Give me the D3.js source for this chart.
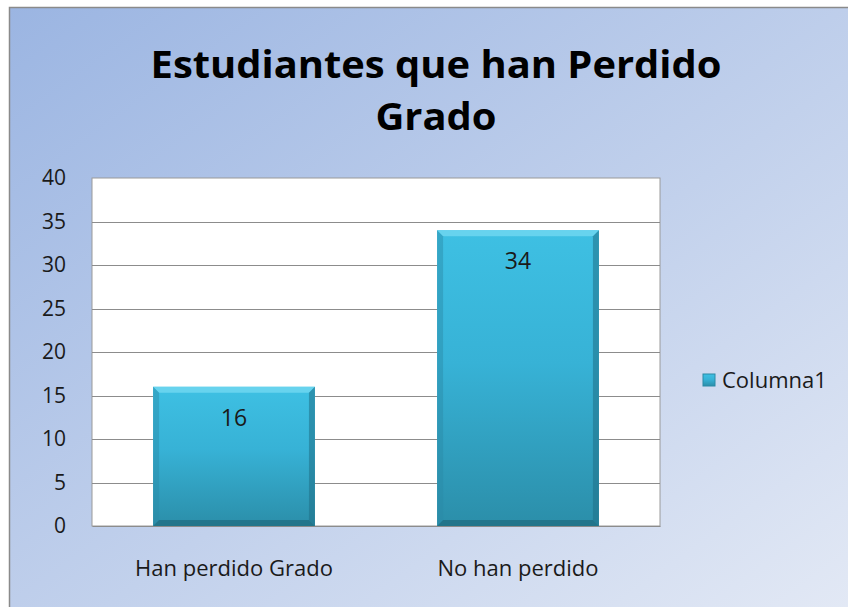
<!DOCTYPE html>
<html>
<head>
<meta charset="utf-8">
<script src="https://cdn.jsdelivr.net/npm/d3@7"></script>
<style>
  html, body { margin: 0; padding: 0; background: #fff; }
  svg { display: block; }
</style>
</head>
<body>
<script>
// Chart data
const categories = ["Han perdido Grado", "No han perdido"];
const values = [16, 34];
const yTicks = [0, 5, 10, 15, 20, 25, 30, 35, 40];
const seriesName = "Columna1";
const titleLines = ["Estudiantes que han Perdido", "Grado"];

const width = 848;
const height = 607;
const font = "'Open Sans', Lato, sans-serif";

const svg = d3.select("body")
  .append("svg")
  .attr("width", width)
  .attr("height", height);

const defs = svg.append("defs");

// Chart background gradient
const bg = defs.append("linearGradient")
  .attr("id", "bg")
  .attr("x1", "0").attr("y1", "0")
  .attr("x2", "1").attr("y2", "1");
bg.append("stop").attr("offset", "0%").attr("stop-color", "#9bb5e2");
bg.append("stop").attr("offset", "55%").attr("stop-color", "#c2d1ec");
bg.append("stop").attr("offset", "100%").attr("stop-color", "#e3e9f5");

// Bar gradient
const barGrad = defs.append("linearGradient")
  .attr("id", "barFill")
  .attr("x1", "0").attr("y1", "0")
  .attr("x2", "0").attr("y2", "1");
barGrad.append("stop").attr("offset", "0%").attr("stop-color", "#3ec0e3");
barGrad.append("stop").attr("offset", "45%").attr("stop-color", "#37b2d6");
barGrad.append("stop").attr("offset", "100%").attr("stop-color", "#2b8ea9");

svg.append("rect")
  .attr("x", 9.5).attr("y", 7.5)
  .attr("width", width).attr("height", height)
  .attr("fill", "url(#bg)")
  .attr("stroke", "#8a8a8a")
  .attr("stroke-width", 1.5);

// Title
svg.append("text")
  .attr("transform", "translate(436,0) scale(1.05,1)")
  .attr("text-anchor", "middle")
  .attr("font-family", font)
  .attr("font-weight", "bold")
  .attr("font-size", 38)
  .attr("fill", "#000")
  .selectAll("tspan")
  .data(titleLines)
  .enter()
  .append("tspan")
  .attr("x", 0)
  .attr("y", (d, i) => 78 + i * 52)
  .text((d) => d);

// Plot area
const plot = { left: 92, right: 660, top: 178, bottom: 526 };

const x = d3.scaleBand()
  .domain(categories)
  .range([plot.left, plot.right])
  .paddingInner(0.43)
  .paddingOuter(0.215);

const y = d3.scaleLinear()
  .domain([0, 40])
  .range([plot.bottom, plot.top]);

svg.append("rect")
  .attr("x", plot.left).attr("y", plot.top)
  .attr("width", plot.right - plot.left)
  .attr("height", plot.bottom - plot.top)
  .attr("fill", "#fff")
  .attr("stroke", "#9a9a9a")
  .attr("stroke-width", 1);

// Gridlines
svg.append("g")
  .selectAll("line")
  .data(yTicks.slice(1, -1))
  .enter()
  .append("line")
  .attr("x1", plot.left).attr("x2", plot.right)
  .attr("y1", (d) => Math.round(y(d)) + 0.5)
  .attr("y2", (d) => Math.round(y(d)) + 0.5)
  .attr("stroke", "#8c8c8c")
  .attr("stroke-width", 1);

// Y axis labels
const yAxis = d3.axisLeft(y).tickValues(yTicks).tickSize(0).tickPadding(26);
svg.append("g")
  .attr("transform", `translate(${plot.left},0)`)
  .call(yAxis)
  .call((g) => g.select(".domain").remove())
  .selectAll("text")
  .attr("font-family", font)
  .attr("font-size", 21)
  .attr("fill", "#1a1a1a");

// X axis labels
const xAxis = d3.axisBottom(x).tickSize(0).tickPadding(34);
svg.append("g")
  .attr("transform", `translate(0,${plot.bottom})`)
  .call(xAxis)
  .call((g) => g.select(".domain").attr("stroke", "#8c8c8c"))
  .selectAll("text")
  .attr("font-family", font)
  .attr("font-size", 22)
  .attr("fill", "#1a1a1a");

// Bars with bevel
const bev = 6;
const bars = svg.append("g")
  .selectAll("g")
  .data(values)
  .enter()
  .append("g");

bars.append("rect")
  .attr("x", (d, i) => x(categories[i]))
  .attr("y", (d) => y(d))
  .attr("width", x.bandwidth())
  .attr("height", (d) => y(0) - y(d))
  .attr("fill", "url(#barFill)");

// top bevel
bars.append("path")
  .attr("d", (d, i) => {
    const x0 = x(categories[i]), x1 = x0 + x.bandwidth(), t = y(d);
    return `M${x0},${t}L${x1},${t}L${x1 - bev},${t + bev}L${x0 + bev},${t + bev}Z`;
  })
  .attr("fill", "#6fd6f0")
  .attr("opacity", 0.85);
// left bevel
bars.append("path")
  .attr("d", (d, i) => {
    const x0 = x(categories[i]), t = y(d), b = y(0);
    return `M${x0},${t}L${x0 + bev},${t + bev}L${x0 + bev},${b - bev}L${x0},${b}Z`;
  })
  .attr("fill", "#2a8aa6")
  .attr("opacity", 0.45);
// right bevel
bars.append("path")
  .attr("d", (d, i) => {
    const x1 = x(categories[i]) + x.bandwidth(), t = y(d), b = y(0);
    return `M${x1},${t}L${x1 - bev},${t + bev}L${x1 - bev},${b - bev}L${x1},${b}Z`;
  })
  .attr("fill", "#1f6f86")
  .attr("opacity", 0.55);
// bottom bevel
bars.append("path")
  .attr("d", (d, i) => {
    const x0 = x(categories[i]), x1 = x0 + x.bandwidth(), b = y(0);
    return `M${x0},${b}L${x1},${b}L${x1 - bev},${b - bev}L${x0 + bev},${b - bev}Z`;
  })
  .attr("fill", "#1d6477")
  .attr("opacity", 0.6);

// Data labels
bars.append("text")
  .attr("x", (d, i) => x(categories[i]) + x.bandwidth() / 2)
  .attr("y", (d) => y(d) + 39)
  .attr("text-anchor", "middle")
  .attr("font-family", font)
  .attr("font-size", 23)
  .attr("fill", "#1a1a1a")
  .text((d) => d);

// Legend
const legend = svg.append("g").attr("transform", "translate(703,374)");
legend.append("rect")
  .attr("width", 12).attr("height", 12)
  .attr("fill", "url(#barFill)")
  .attr("stroke", "#2a8aa6")
  .attr("stroke-width", 1);
legend.append("text")
  .attr("x", 19)
  .attr("y", 14)
  .attr("font-family", font)
  .attr("font-size", 22)
  .attr("fill", "#1a1a1a")
  .text(seriesName);
</script>
</body>
</html>
